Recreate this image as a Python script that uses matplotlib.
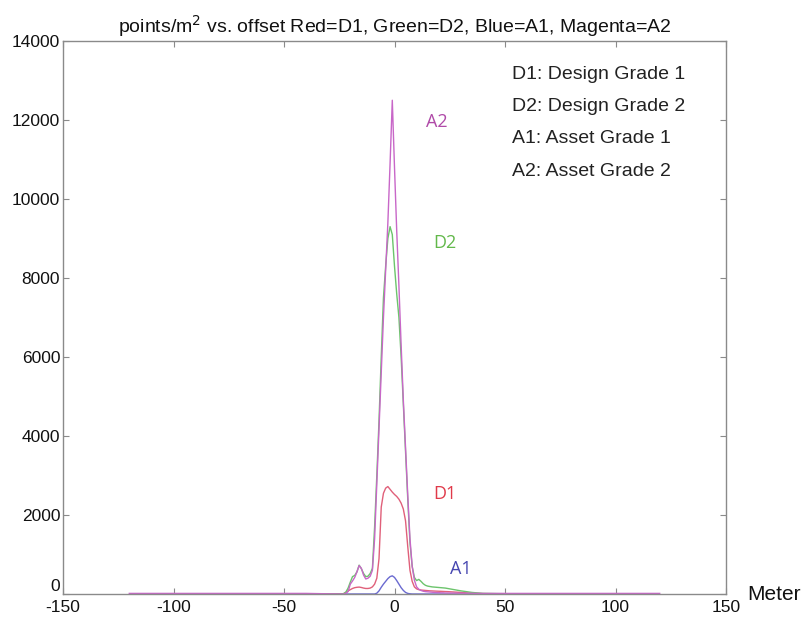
import matplotlib
matplotlib.use("Agg")
import matplotlib.pyplot as plt
import numpy as np

# ---------------- data ----------------
core_x = list(range(-24, 25))

a2_core = [0, 0, 20, 60, 250, 330, 420, 560, 720, 650, 480, 380, 400, 450, 600,
           1400, 2800, 4200, 5600, 7000, 8200, 9400, 10900, 12500,
           10800, 9200, 7800, 6300, 4900, 3700, 2500, 1400, 700, 350, 180, 120,
           90, 70, 60, 55, 50, 45, 40, 35, 35, 30, 30, 25, 25]
d2_core = [0, 10, 50, 150, 300, 440, 470, 560, 730, 640, 520, 440, 450, 520, 650,
           1700, 3000, 4400, 6000, 7500, 8300, 9000, 9300, 9100,
           8300, 7600, 7000, 6000, 4800, 3600, 2400, 1300, 700, 420, 340, 370,
           320, 260, 220, 200, 190, 180, 175, 170, 165, 160, 155, 150, 140]
d1_core = [0, 10, 40, 80, 110, 140, 160, 170, 175, 165, 150, 140, 140, 150, 180,
           250, 400, 900, 2200, 2550, 2680, 2720, 2650, 2580,
           2520, 2470, 2400, 2300, 2150, 1850, 1200, 600, 320, 180, 130, 110,
           100, 95, 90, 85, 80, 78, 75, 72, 70, 68, 65, 62, 60]
a1_core = [0, 0, 0, 0, 0, 0, 0, 0, 0, 0, 0, 0, 0, 0, 0,
           0, 20, 80, 170, 250, 320, 390, 440, 460,
           420, 340, 250, 160, 90, 40, 15, 5, 0, 0, 0, 0,
           0, 0, 0, 0, 0, 0, 0, 0, 0, 0, 0, 0, 0]

left_tail_x_a2 = [-120, -100, -80, -60, -40, -30]
left_tail_a2 = [15, 15, 15, 15, 15, 5]
right_tail_x_a2 = [30, 40, 53, 60, 80, 100, 120]
right_tail_a2 = [20, 15, 15, 15, 15, 15, 15]

left_tail_x = [-40, -30]
right_tail_x = [30, 35, 40, 53]
d2_right_tail = [80, 40, 15, 5]
d1_right_tail = [40, 20, 10, 5]
a1_right_tail = [0, 0, 0, 0]
left_tail_zero = [5, 0]

x_ticks = [-150, -100, -50, 0, 50, 100, 150]
y_ticks = [0, 2000, 4000, 6000, 8000, 10000, 12000, 14000]
legend_lines = ["D1: Design Grade 1", "D2: Design Grade 2",
                "A1: Asset Grade 1", "A2: Asset Grade 2"]
legend_y = [13150, 12330, 11520, 10690]

# ---------------- figure ----------------
fig = plt.figure(figsize=(8.09, 6.18), dpi=100)
ax = fig.add_axes([63 / 809, 24 / 618, 663 / 809, 553 / 618])

def series(lx, ly, cy, rx, ry):
    return np.array(lx + core_x + rx), np.array(ly + cy + ry)

col_a2 = "#c867c8"
col_d2 = "#6cc46c"
col_d1 = "#e0607a"
col_a1 = "#6a6ad0"

x, y = series(left_tail_x, left_tail_zero, a1_core, right_tail_x, a1_right_tail)
ax.plot(x, y, color=col_a1, lw=1.0)
x, y = series(left_tail_x, left_tail_zero, d1_core, right_tail_x, d1_right_tail)
ax.plot(x, y, color=col_d1, lw=1.0)
x, y = series(left_tail_x, left_tail_zero, d2_core, right_tail_x, d2_right_tail)
ax.plot(x, y, color=col_d2, lw=1.0)
x, y = series(left_tail_x_a2, left_tail_a2, a2_core, right_tail_x_a2, right_tail_a2)
ax.plot(x, y, color=col_a2, lw=1.0)

ax.set_xlim(-150, 150)
ax.set_ylim(0, 14000)
ax.set_xticks(x_ticks)
ax.set_yticks(y_ticks)
ax.set_xticklabels([str(t) for t in x_ticks])
ax.set_yticklabels([str(t) for t in y_ticks])

for s in ax.spines.values():
    s.set_color("#8a8a8a")
    s.set_linewidth(1.0)
ax.tick_params(direction="in", length=4, width=0.8, color="#8a8a8a",
               top=True, right=True, labelsize=12.5, pad=2,
               labelcolor="#111111")
ax.tick_params(axis="x", pad=4)
for lab in ax.get_xticklabels() + ax.get_yticklabels():
    lab.set_family("Liberation Sans")
ax.get_yticklabels()[0].set_verticalalignment("bottom")

ax.set_title("points/m$^2$ vs. offset Red=D1, Green=D2, Blue=A1, Magenta=A2",
             fontsize=14, family="Liberation Sans", pad=6, color="#111111")

fig.text(747 / 809, 1 - 594 / 618, "Meter", fontsize=15, family="Liberation Sans",
         va="center", ha="left", color="#111111")

lab_font = "Open Sans"
ax.text(19, 11950, "A2", color="#b04aa8", fontsize=13, family=lab_font, ha="center", va="center")
ax.text(23, 8890, "D2", color="#62b84a", fontsize=13, family=lab_font, ha="center", va="center")
ax.text(23, 2530, "D1", color="#e03a4a", fontsize=13, family=lab_font, ha="center", va="center")
ax.text(30, 630, "A1", color="#4646b0", fontsize=13, family=lab_font, ha="center", va="center")

for t, yy in zip(legend_lines, legend_y):
    ax.text(53, yy, t, fontsize=14, family="Liberation Sans", ha="left",
            va="center", color="#222222")

fig.savefig("out.png", dpi=100)
